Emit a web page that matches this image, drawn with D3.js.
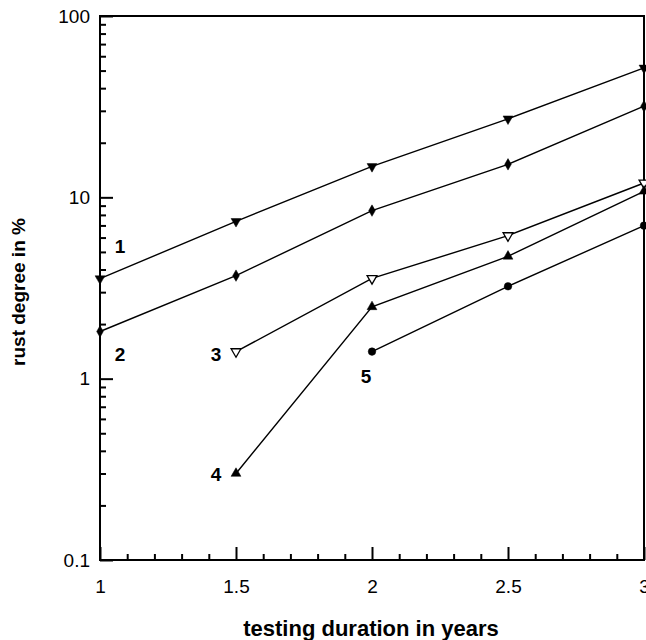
<!DOCTYPE html>
<html>
<head>
<meta charset="utf-8">
<script src="https://cdn.jsdelivr.net/npm/d3@7"></script>
<style>
  html, body { margin: 0; padding: 0; background: #fff; }
  svg { display: block; }
  text { font-family: "Liberation Sans", Arial, Helvetica, sans-serif; fill: #000; }
</style>
</head>
<body>
<svg id="chart" width="646" height="640"></svg>
<script>
// ---- data ----
const years = [1, 1.5, 2, 2.5, 3];
const seriesNames = ["1", "2", "3", "4", "5"];
const series1 = [3.56, 7.37, 14.8, 27.1, 51.7];
const series2 = [1.82, 3.70, 8.45, 15.2, 31.8];
const series3 = [null, 1.41, 3.57, 6.15, 12.0];
const series4 = [null, 0.30, 2.49, 4.73, 10.8];
const series5 = [null, null, 1.41, 3.23, 6.98];
const xTickLabels = ["1", "1.5", "2", "2.5", "3"];
const yTickLabels = ["0.1", "1", "10", "100"];
const xTitle = "testing duration in years";
const yTitle = "rust degree in %";

const allSeries = [series1, series2, series3, series4, series5];

// ---- layout ----
const plot = { left: 100, right: 644, top: 16, bottom: 560 };

const svg = d3.select("#chart");
const x = d3.scaleLinear().domain([1, 3]).range([plot.left, plot.right]);
const y = d3.scaleLog().domain([0.1, 100]).range([plot.bottom, plot.top]);

// minor ticks
const xMinor = d3.range(1, 3.0001, 0.1).map(v => +v.toFixed(2)).filter(v => Math.abs(v * 2 - Math.round(v * 2)) > 1e-6);
const yMinor = [];
[0.1, 1, 10].forEach(d => { for (let k = 2; k <= 9; k++) yMinor.push(+(d * k).toFixed(3)); });

const tickFont = 19;

// x axis minor
svg.append("g").attr("transform", `translate(0,${plot.bottom})`)
  .call(d3.axisBottom(x).tickValues(xMinor).tickSize(-6).tickFormat(""))
  .call(g => g.select(".domain").remove())
  .call(g => g.selectAll("line").attr("stroke", "#000").attr("stroke-width", 2));
// x axis major
svg.append("g").attr("transform", `translate(0,${plot.bottom})`)
  .call(d3.axisBottom(x).tickValues(years).tickSize(-13).tickPadding(20)
    .tickFormat((d, i) => xTickLabels[i]))
  .call(g => g.select(".domain").remove())
  .call(g => g.selectAll("line").attr("stroke", "#000").attr("stroke-width", 2))
  .call(g => g.selectAll("text").attr("font-size", tickFont).attr("font-family", "Liberation Sans, Arial, sans-serif"));

// y axis minor
svg.append("g").attr("transform", `translate(${plot.left},0)`)
  .call(d3.axisLeft(y).tickValues(yMinor).tickSize(-6).tickFormat(""))
  .call(g => g.select(".domain").remove())
  .call(g => g.selectAll("line").attr("stroke", "#000").attr("stroke-width", 2));
// y axis major
const yMajor = [0.1, 1, 10, 100];
svg.append("g").attr("transform", `translate(${plot.left},0)`)
  .call(d3.axisLeft(y).tickValues(yMajor).tickSize(-13).tickPadding(10)
    .tickFormat((d, i) => yTickLabels[i]))
  .call(g => g.select(".domain").remove())
  .call(g => g.selectAll("line").attr("stroke", "#000").attr("stroke-width", 2))
  .call(g => g.selectAll("text").attr("font-size", tickFont).attr("font-family", "Liberation Sans, Arial, sans-serif"));

// frame
svg.append("rect")
  .attr("x", plot.left).attr("y", plot.top)
  .attr("width", plot.right - plot.left).attr("height", plot.bottom - plot.top)
  .attr("fill", "none").attr("stroke", "#000").attr("stroke-width", 2);

// lines
const line = d3.line()
  .defined(d => d.v != null)
  .x(d => x(d.t)).y(d => y(d.v));

const symbols = [
  { type: d3.symbolTriangle, rot: 180, fill: "#000", size: 42 },
  { type: d3.symbolDiamond, rot: 0, fill: "#000", size: 38 },
  { type: d3.symbolTriangle, rot: 180, fill: "#fff", size: 42 },
  { type: d3.symbolTriangle, rot: 0, fill: "#000", size: 42 },
  { type: d3.symbolCircle, rot: 0, fill: "#000", size: 45 }
];

// label offsets from first point (px)
const labelOffsets = [[20, -32], [20, 23], [-20, 3], [-20, 1], [-6, 25]];

const gData = svg.append("g");
allSeries.forEach((vals, si) => {
  const pts = years.map((t, i) => ({ t, v: vals[i] })).filter(d => d.v != null);
  gData.append("path").datum(pts)
    .attr("d", line)
    .attr("fill", "none").attr("stroke", "#000").attr("stroke-width", 1.4);
  const s = symbols[si];
  gData.selectAll(null).data(pts).enter().append("path")
    .attr("d", d3.symbol().type(s.type).size(s.size))
    .attr("transform", d => `translate(${x(d.t)},${y(d.v)}) rotate(${s.rot})`)
    .attr("fill", s.fill).attr("stroke", "#000").attr("stroke-width", s.fill === "#fff" ? 1.3 : 0.5);
  const p0 = pts[0];
  gData.append("text")
    .attr("x", x(p0.t) + labelOffsets[si][0])
    .attr("y", y(p0.v) + labelOffsets[si][1])
    .attr("text-anchor", "middle").attr("dominant-baseline", "central")
    .attr("font-size", 19).attr("font-weight", "bold")
    .text(seriesNames[si]);
});

// axis titles
svg.append("text")
  .attr("x", 371).attr("y", 628)
  .attr("text-anchor", "middle").attr("dominant-baseline", "central")
  .attr("font-size", 22).attr("font-weight", "bold")
  .text(xTitle);
svg.append("text")
  .attr("transform", `translate(18,${(plot.top + plot.bottom) / 2 + 4}) rotate(-90)`)
  .attr("text-anchor", "middle").attr("dominant-baseline", "central")
  .attr("font-size", 19).attr("font-weight", "bold")
  .text(yTitle);
</script>
</body>
</html>
